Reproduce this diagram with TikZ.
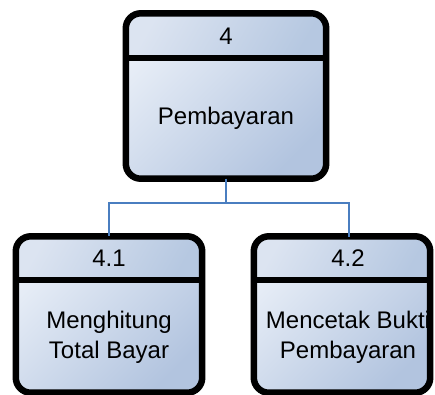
\documentclass[tikz,border=0pt]{standalone}
\usepackage{fontspec}
\setmainfont{Liberation Sans}
\definecolor{lite}{HTML}{E8EEF7}
\definecolor{dark}{HTML}{B2C4DF}
\definecolor{hlite}{HTML}{DCE4F1}
\definecolor{hdark}{HTML}{B6C8E1}
\definecolor{connblue}{HTML}{4A7EC0}
\tikzset{
  pbody/.style={rectangle, inner sep=0pt, rounded corners=15pt, top color=lite, bottom color=dark, shading angle=45},
  hshade/.style={top color=hlite, bottom color=hdark, shading angle=60},
  border/.style={draw=black, line width=6.5pt, rounded corners=15pt},
  divline/.style={draw=black, line width=6.5pt},
  conn/.style={draw=connblue, line width=1.2pt},
  lbl/.style={font=\fontsize{24}{30}\selectfont, align=center, text=black, inner sep=0pt},
}
\begin{document}
\begin{tikzpicture}[x=1pt,y=-1pt]
\useasboundingbox (0,0) rectangle (435,394);
\clip (0,0) rectangle (435,394);
% box 4
\node[pbody, minimum width=200pt, minimum height=165pt] (p4) at (226,96) {};
\coordinate (d4) at (0,58);
\begin{scope}
  \clip[rounded corners=15pt] (p4.north west) rectangle (p4.south east);
  \shade[hshade] (p4.north west) rectangle (p4.east |- d4);
\end{scope}
\draw[border] (p4.north west) rectangle (p4.south east);
\draw[divline] (p4.west |- d4) -- (p4.east |- d4);
\node[lbl] (n4) at (226,36) {4};
\node[lbl] (l4) at (226,118) {Pembayaran};
% box 4.1
\node[pbody, minimum width=186pt, minimum height=156pt] (b41) at (109,314.5) {};
\coordinate (d41) at (0,280);
\begin{scope}
  \clip[rounded corners=15pt] (b41.north west) rectangle (b41.south east);
  \shade[hshade] (b41.north west) rectangle (b41.east |- d41);
\end{scope}
\draw[border] (b41.north west) rectangle (b41.south east);
\draw[divline] (b41.west |- d41) -- (b41.east |- d41);
\node[lbl] (n41) at (109,258) {4.1};
\node[lbl] (l41) at (109,337) {Menghitung\\Total Bayar};
% box 4.2
\node[pbody, minimum width=176pt, minimum height=156pt] (b42) at (342,314.5) {};
\coordinate (d42) at (0,280);
\begin{scope}
  \clip[rounded corners=15pt] (b42.north west) rectangle (b42.south east);
  \shade[hshade] (b42.north west) rectangle (b42.east |- d42);
\end{scope}
\draw[border] (b42.north west) rectangle (b42.south east);
\draw[divline] (b42.west |- d42) -- (b42.east |- d42);
\node[lbl] (n42) at (348,258) {4.2};
\node[lbl] (l42) at (348,337) {Mencetak Bukti\\Pembayaran};
% connectors
\coordinate (j) at (226,203);
\coordinate (t42) at (349,236.5);
\draw[conn] (p4.south) -- (j);
\draw[conn] (j) -| (b41.north);
\draw[conn] (j) -| (t42);
\end{tikzpicture}
\end{document}
